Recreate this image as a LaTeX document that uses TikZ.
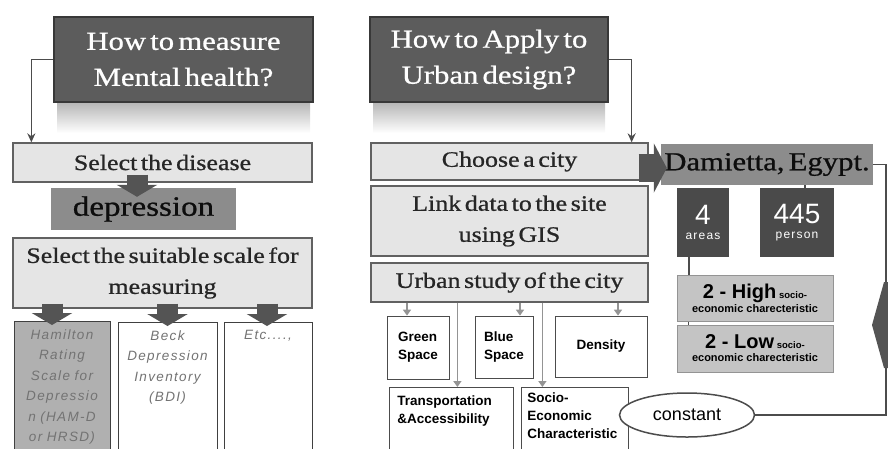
\documentclass[tikz,border=0pt]{standalone}
\usepackage{fontspec}
\setmainfont{Liberation Serif}
\setsansfont{Liberation Sans}
\newfontfamily\stepfont{Liberation Serif}[FakeStretch=1.18,FakeBold=0.8,WordSpace=0.55]
\newfontfamily\spacedsans{Liberation Sans}[LetterSpace=10]
\usetikzlibrary{arrows.meta,shapes.geometric}
\tikzset{%
  >={Stealth[width=8pt,length=9pt]},
  % Specifications for style of nodes:
  base/.style = {
    rectangle,
    inner sep=0pt,
    align=center,
    text centered
  },
  question/.style = {base, draw=black!78, line width=1.5pt, fill=black!64,
                     text=white, font=\stepfont\fontsize{26}{36}\selectfont},
  stepbox/.style = {base, draw=black!62, line width=1.3pt, fill=black!10,
                    text=black!85, font=\stepfont\fontsize{22}{31}\selectfont},
  result/.style = {base, fill=black!45, text=black!95},
  % text depth is counted from the first line
  scalebox/.style = {base, anchor=north, draw=black!75, line width=1pt,
                     fill=white, inner xsep=4pt, inner ysep=8pt, text=black!55,
                     text depth=106pt,
                     font=\spacedsans\itshape\fontsize{13.5}{20.5}\selectfont},
  countbox/.style = {base, fill=black!71, text=white},
  groupbox/.style = {base, draw=black!42, line width=1pt, fill=black!23,
                     font=\sffamily\bfseries},
  factor/.style = {base, draw=black!70, line width=0.8pt, fill=white,
                   font=\sffamily\bfseries\fontsize{13.5}{18}\selectfont},
  % Specifications for style of connectors:
  link/.style = {black!70, line width=1.6pt},
  tree/.style = {black!42, line width=1.6pt, -{Triangle[width=8pt,length=6pt]}},
  fatdown/.style = {black!67, line width=21pt, -{Triangle[width=40pt,length=12pt]}},
  fatright/.style = {black!67, line width=28pt, -{Triangle[width=49pt,length=13pt]}},
}

\begin{document}
\begin{tikzpicture}[x=1pt, y=-1pt]
  \useasboundingbox (0,0) rectangle (888,448);
  % reflections under the questions
  \shade[top color=black!28, bottom color=white] (57,103) rectangle (310,133);
  \shade[top color=black!28, bottom color=white] (373,103) rectangle (605,133);
  % nodes
  \node (mh) [question, minimum width=259pt, minimum height=85pt] at (183.5,59.5)
  {How to measure\\Mental health?};
  \node (ud) [question, minimum width=238pt, minimum height=85pt] at (489,59.5)
  {How to Apply to\\Urban design?};
  \node (dis) [stepbox, minimum width=299pt, minimum height=39pt] at (162.5,162.5)
  {Select the disease};
  \node (dep) [result, minimum width=185pt, minimum height=42pt,
    font=\stepfont\fontsize{28}{30}\selectfont] at (143.5,209) {depression};
  \node (scale) [stepbox, minimum width=299pt, minimum height=70pt] at (162.5,273)
  {Select the suitable scale for\\measuring};
  \node (ham) [scalebox, fill=black!31, text width=88pt] at (62,321)
  {Hamilton\\Rating\\Scale for\\Depressio\\n (HAM-D\\or HRSD)};
  \node (beck) [scalebox, text width=91pt] at (167.5,322)
  {Beck\\Depression\\Inventory\\(BDI)};
  \node (etc) [scalebox, text width=80pt] at (268,322) {Etc....,};

  \node (city) [stepbox, minimum width=277pt, minimum height=37pt] at (509.5,161.5)
  {Choose a city};
  \node (gis) [stepbox, minimum width=277pt, minimum height=70pt] at (509.5,221)
  {Link data to the site\\using GIS};
  \node (urb) [stepbox, minimum width=277pt, minimum height=39pt] at (509.5,282.5)
  {Urban study of the city};
  \node (green) [factor, align=left, minimum width=62pt, minimum height=63pt]
    at (418,347.5) {Green\\Space};
  \node (blue) [factor, align=left, minimum width=58pt, minimum height=62pt]
    at (504,347) {Blue\\Space};
  \node (dens) [factor, minimum width=92pt, minimum height=61pt] at (601,346.5)
  {Density};
  \node (trans) [factor, anchor=north west, align=left, inner xsep=8pt,
    inner ysep=8pt, text width=108pt, text depth=42pt] at (389,387)
  {Transportation\\\&Accessibility};
  \node (socio) [factor, anchor=north west, align=left, inner xsep=6pt,
    inner ysep=5pt, text width=95pt, text depth=47pt] at (521,387)
  {Socio-\\Economic\\Characteristic};

  \node (dam) [result, minimum width=212pt, minimum height=41pt,
    font=\stepfont\fontsize{26}{30}\selectfont] at (767,164.5) {Damietta, Egypt.};
  \node (four) [countbox, minimum width=52pt, minimum height=69pt] at (703,222.5)
  {{\sffamily\fontsize{28}{28}\selectfont 4}\\[3pt]{\spacedsans\fontsize{12}{12}\selectfont areas}};
  \node (pers) [countbox, minimum width=74pt, minimum height=69pt] at (797,222.5)
  {{\sffamily\fontsize{28}{28}\selectfont 445}\\[3pt]{\spacedsans\fontsize{12}{12}\selectfont person}};
  \node (high) [groupbox, minimum width=156pt, minimum height=46pt] at (755,298)
  {{\fontsize{20}{20}\selectfont 2 - High} {\fontsize{9.5}{9.5}\selectfont socio-}\\[1pt]
   {\fontsize{11}{11}\selectfont economic charecteristic}};
  \node (low) [groupbox, minimum width=156pt, minimum height=47pt] at (755,348.5)
  {{\fontsize{20}{20}\selectfont 2 - Low} {\fontsize{9.5}{9.5}\selectfont socio-}\\[1pt]
   {\fontsize{11}{11}\selectfont economic charecteristic}};
  \node (const) [ellipse, draw=black!70, line width=1.5pt, fill=white,
    minimum width=135pt, minimum height=44pt,
    font=\sffamily\fontsize{18}{18}\selectfont] at (687,415) {constant};

  % lines
  \draw[link, ->] (mh.west) -| ([xshift=19pt]dis.north west);
  \draw[link, ->] (ud.east) -| ([xshift=-17pt]city.north east);
  \draw[link] ([xshift=8pt]pers.north) -- ([xshift=8pt]pers.north |- dam.south);
  \draw[link] ([xshift=12pt]four.south west) -- ([xshift=12pt]four.south west |- high.north);
  \draw[link] ([xshift=12pt]high.south west) -- ([xshift=12pt]high.south west |- low.north);
  \coordinate (edge) at (886,0);
  \draw[link] (dam.east) -| (edge |- const.east) -- (const.east);
  \fill[black!67] (872,325) -- (884,282) -- (888,282) -- (888,368) -- (884,368) -- cycle;

  \foreach \tgt/\dx in {green/-11, trans/6, blue/16, socio/-32.5, dens/17} {
    \coordinate (tip) at ([xshift=\dx pt]\tgt.north);
    \draw[tree] (urb.south -| tip) -- (tip);
  }

  % block arrows
  \coordinate (dtip) at ([xshift=-6.5pt,yshift=-9pt]dep.north);
  \coordinate (dtail) at (dis.south -| dtip);
  \draw[fatdown] ([yshift=8pt]dtail) -- (dtip);
  \foreach \tgt/\dx in {ham/-10, beck/0, etc/-1} {
    \coordinate (stip) at ([xshift=\dx pt,yshift=-4pt]\tgt.north);
    \coordinate (stail) at (scale.south -| stip);
    \draw[fatdown] ([yshift=5pt]stail) -- (stip);
  }
  \coordinate (rtip) at ([xshift=6pt,yshift=-3.5pt]dam.west);
  \coordinate (rtail) at (rtip -| city.east);
  \draw[fatright] ([xshift=-10pt]rtail) -- (rtip);
\end{tikzpicture}
\end{document}
